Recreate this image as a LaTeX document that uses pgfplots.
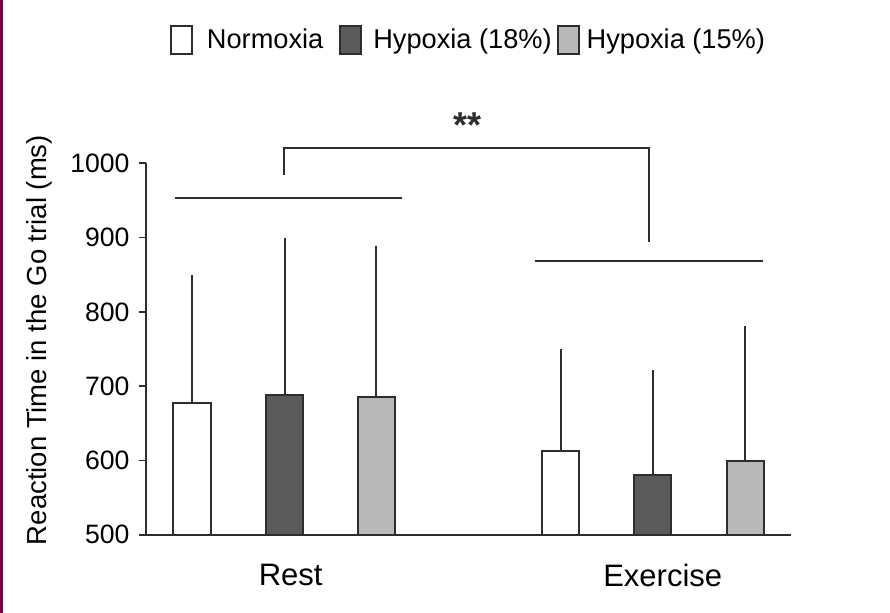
\documentclass[border=0pt]{standalone}
\usepackage{pgfplots}
\pgfplotsset{compat=1.18}
\usepackage{fontspec}
\setmainfont{Liberation Sans}
\definecolor{edge}{RGB}{45,45,45}
\definecolor{darkfill}{RGB}{90,90,90}
\definecolor{lightfill}{RGB}{185,185,185}
\definecolor{sidebar}{RGB}{120,0,72}
\begin{document}
\begin{tikzpicture}
\path[use as bounding box] (0,0) rectangle (445bp,306.5bp);
\fill[sidebar] (0,0) rectangle (1.6bp,306.5bp);
\begin{axis}[
  at={(72.85bp,39.15bp)}, anchor=south west,
  scale only axis, width=322.5bp, height=185.7bp,
  xmin=0, xmax=645, ymin=500, ymax=1000,
  clip=false,
  axis x line*=bottom, axis y line*=left,
  axis line style={draw=edge, line width=0.9bp},
  ytick={500,600,700,800,900,1000},
  xtick={145,517}, xticklabels={Rest,Exercise},
  /pgf/number format/assume math mode=true,
  every x tick label/.append style={font=\fontsize{15.5bp}{18bp}\selectfont, yshift=-8bp},
  every y tick label/.append style={font=\fontsize{13.3bp}{16bp}\selectfont, xshift=-1.3bp, /pgf/number format/1000 sep={}},
  tick align=outside, major tick length=3.3bp,
  xtick style={draw=none},
  ytick style={draw=edge, line width=0.9bp},
  ylabel={Reaction Time in the Go trial (ms)},
  every axis y label/.style={at={(axis description cs:-0.165,0.524)}, rotate=90, anchor=center,
    font=\fontsize{13.75bp}{16bp}\selectfont},
  ybar, bar width=18.75bp, bar shift=0pt,
  every axis plot/.append style={draw=edge, line width=1bp},
  error bars/error bar style={draw=edge, line width=1bp},
  error bars/error mark=none,
  legend columns=3,
  legend style={draw=none, fill=none, at={(0.502,1.332)}, anchor=center,
    font=\fontsize{13.6bp}{16bp}\selectfont, inner sep=0pt,
    /tikz/column 1/.style={column sep=5bp},
    /tikz/column 2/.style={column sep=6bp},
    /tikz/column 3/.style={column sep=3.5bp},
    /tikz/column 4/.style={column sep=0.5bp},
    /tikz/column 5/.style={column sep=1.5bp}},
  legend image code/.code={\draw[#1, line width=1bp] (0bp,-7bp) rectangle (10.5bp,7bp);},
]
\addplot[fill=white, error bars/.cd, y dir=plus, y explicit]
  coordinates {(46.2,677) +- (0,172) (415,613) +- (0,137)};
\addplot[fill=darkfill, error bars/.cd, y dir=plus, y explicit]
  coordinates {(139,688) +- (0,212) (506.8,581) +- (0,141)};
\addplot[fill=lightfill, error bars/.cd, y dir=plus, y explicit]
  coordinates {(230.7,685) +- (0,204) (599.7,599) +- (0,182)};
\legend{Normoxia, Hypoxia (18\%), Hypoxia (15\%)}
\draw[edge, line width=1bp] (axis cs:29,953.7) -- (axis cs:256,953.7);
\draw[edge, line width=1bp] (axis cs:389.3,868) -- (axis cs:617,868);
\draw[edge, line width=1bp] (axis cs:138,984.3) -- (axis cs:138,1021) -- (axis cs:503,1021) -- (axis cs:503,894.5);
\node[font=\fontsize{18bp}{20bp}\selectfont\bfseries, text=edge] at (axis cs:322.3,1051) {**};
\end{axis}
\end{tikzpicture}
\end{document}
